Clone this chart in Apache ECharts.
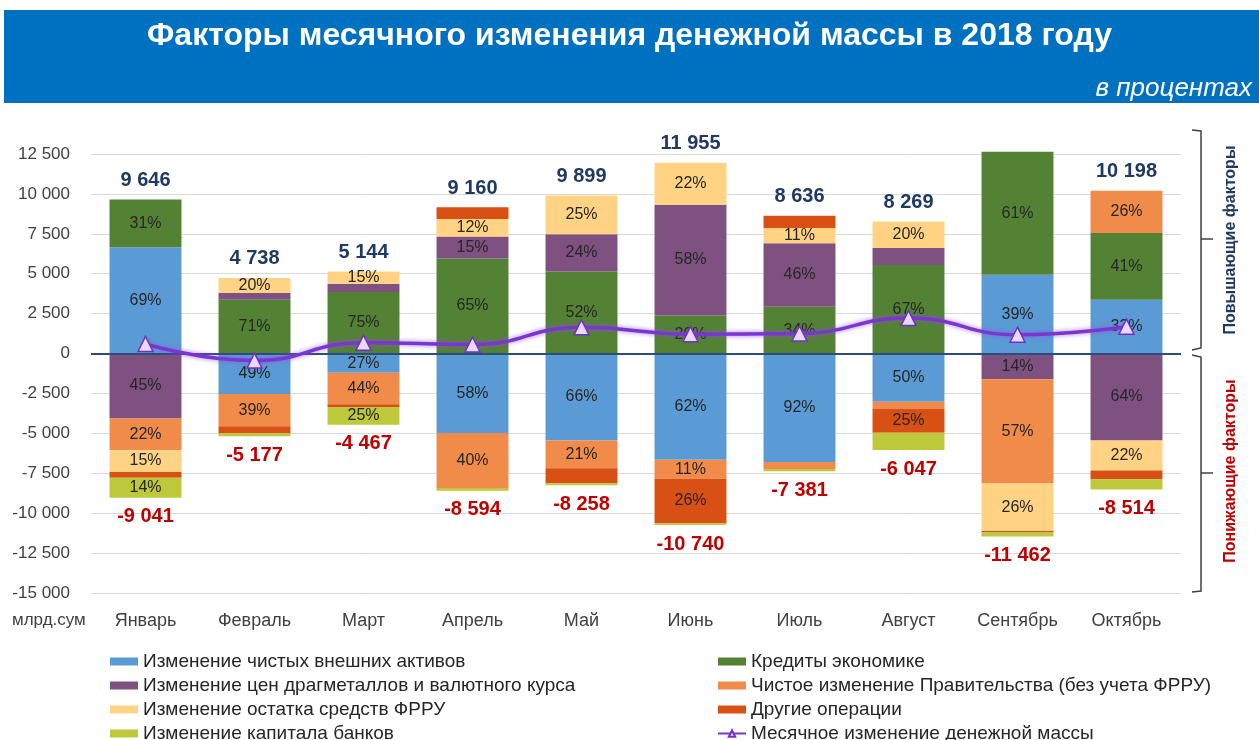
<!DOCTYPE html>
<html>
<head>
<meta charset="utf-8">
<script src="https://cdn.jsdelivr.net/npm/echarts@6/dist/echarts.min.js"></script>
<style>
  html, body { margin: 0; padding: 0; background: #fff; }
  #chart { width: 1259px; height: 740px; }
</style>
</head>
<body>
<div id="chart"></div>
<script>
// месяцы
const categories = ['Январь', 'Февраль', 'Март', 'Апрель', 'Май', 'Июнь', 'Июль', 'Август', 'Сентябрь', 'Октябрь'];

// млрд.сум
const netForeignAssets = [6656, -2537, -1206, -4985, -5450, -6659, -6791, -3024, 4930, 3365];
const creditsEconomy   = [2990, 3364, 3858, 5954, 5147, 2391, 2936, 5540, 7712, 4181];
const metalsCurrency   = [-4068, 426, 514, 1374, 2330, 6934, 3973, 1075, -1605, -5449];
const governmentNet    = [-1989, -2019, -1965, -3438, -1734, -1181, -440, -420, -6533, 2652];
const frruBalance      = [-1356, 948, 772, 1099, 2422, 2630, 950, 1654, -2980, -1873];
const otherOps         = [-362, -440, -179, 733, -940, -2792, 777, -1512, -90, -560];
const bankCapital      = [-1266, -181, -1117, -171, -134, -108, -150, -1091, -254, -632];
const monthlyChange    = [605, -439, 677, 566, 1641, 1215, 1255, 2222, 1180, 1684];

// подписи итогов
const upTotals   = [9646, 4738, 5144, 9160, 9899, 11955, 8636, 8269, 12642, 10198];
const downTotals = [-9041, -5177, -4467, -8594, -8258, -10740, -7381, -6047, -11462, -8514];

// доли в процентах (подписи внутри столбцов), null - без подписи
const pctForeign  = [69, 49, 27, 58, 66, 62, 92, 50, 39, 33];
const pctCredits  = [31, 71, 75, 65, 52, 20, 34, 67, 61, 41];
const pctMetals   = [45, null, null, 15, 24, 58, 46, null, 14, 64];
const pctGov      = [22, 39, 44, 40, 21, 11, null, null, 57, 26];
const pctFrru     = [15, 20, 15, 12, 25, 22, 11, 20, 26, 22];
const pctOther    = [null, null, null, null, null, 26, null, 25, null, null];
const pctCapital  = [14, null, 25, null, null, null, null, null, null, null];

const yTicks = { min: -15000, max: 12500, step: 2500 };

const FONT = '"Liberation Sans", Arial, sans-serif';
const fmt = v => String(v).replace(/\B(?=(\d{3})+(?!\d))/g, ' ');

function barSeries(name, data, pct, color) {
  return {
    name: name,
    type: 'bar',
    stack: 'factors',
    barWidth: '66%',
    clip: false,
    data: data,
    itemStyle: { color: color },
    label: {
      show: true,
      position: 'inside',
      fontFamily: FONT,
      fontSize: 16,
      color: '#262626',
      formatter: p => (pct[p.dataIndex] == null ? '' : pct[p.dataIndex] + '%')
    }
  };
}

const names = [
  'Изменение чистых внешних активов',
  'Кредиты экономике',
  'Изменение цен драгметаллов и валютного курса',
  'Чистое изменение Правительства (без учета ФРРУ)',
  'Изменение остатка средств ФРРУ',
  'Другие операции',
  'Изменение капитала банков',
  'Месячное изменение денежной массы'
];

const legendBase = {
  orient: 'vertical',
  top: 652,
  height: 100,
  padding: 0,
  itemWidth: 28,
  itemHeight: 8,
  itemGap: 5,
  selectedMode: false,
  textStyle: { fontSize: 19, lineHeight: 18, color: '#262626', fontFamily: FONT }
};

const chart = echarts.init(document.getElementById('chart'));

const option = {
  animation: false,
  textStyle: { fontFamily: FONT },
  title: [
    {
      text: 'Факторы месячного изменения денежной массы в 2018 году',
      left: 'center',
      top: 15,
      textStyle: { color: '#fff', fontSize: 32, fontWeight: 'bold', fontFamily: FONT }
    },
    {
      text: 'в процентах',
      right: 2,
      top: 71,
      textStyle: { color: '#fff', fontSize: 26, fontStyle: 'italic', fontWeight: 'normal', fontFamily: FONT }
    }
  ],
  legend: [
    Object.assign({}, legendBase, {
      left: 110,
      data: [names[0], names[2], names[4], names[6]].map(n => ({ name: n, icon: 'rect' }))
    }),
    Object.assign({}, legendBase, {
      left: 717,
      data: [names[1], names[3], names[5]].map(n => ({ name: n, icon: 'rect' })).concat([{ name: names[7] }])
    })
  ],
  grid: { left: 91, right: 78, top: 154, bottom: 147 },
  xAxis: {
    type: 'category',
    data: categories,
    axisLine: { show: false, onZero: false },
    axisTick: { show: false },
    axisLabel: { fontSize: 18, color: '#404040', margin: 19, fontFamily: FONT }
  },
  yAxis: {
    type: 'value',
    min: yTicks.min,
    max: yTicks.max,
    interval: yTicks.step,
    axisLine: { show: false },
    axisTick: { show: false },
    axisLabel: { fontSize: 17, color: '#404040', margin: 21, formatter: fmt, fontFamily: FONT },
    splitLine: { lineStyle: { color: '#D9D9D9', width: 1 } }
  },
  series: [
    barSeries(names[0], netForeignAssets, pctForeign, '#5B9BD5'),
    barSeries(names[1], creditsEconomy, pctCredits, '#548235'),
    barSeries(names[2], metalsCurrency, pctMetals, '#7E5180'),
    barSeries(names[3], governmentNet, pctGov, '#F08B4A'),
    barSeries(names[4], frruBalance, pctFrru, '#FFD383'),
    barSeries(names[5], otherOps, pctOther, '#D85013'),
    barSeries(names[6], bankCapital, pctCapital, '#BDC83B'),
    {
      name: names[7],
      type: 'line',
      smooth: true,
      z: 5,
      data: monthlyChange,
      symbol: 'triangle',
      symbolSize: 15,
      itemStyle: { color: '#E9D8FF', borderColor: '#7030C0', borderWidth: 1.5 },
      lineStyle: { color: '#7B35D0', width: 3.5, shadowColor: 'rgba(140,80,220,0.8)', shadowBlur: 5 },
      markLine: {
        silent: true,
        symbol: ['none', 'none'],
        label: { show: false },
        lineStyle: { color: '#2B4C7E', width: 2, type: 'solid' },
        data: [{ yAxis: 0 }]
      }
    },
    {
      type: 'scatter',
      silent: true,
      symbolSize: 0,
      z: 6,
      data: upTotals,
      itemStyle: { opacity: 1 },
      label: {
        show: true, position: 'top', distance: 9, formatter: p => fmt(p.value),
        fontSize: 20, fontWeight: 'bold', color: '#1F3864', fontFamily: FONT
      }
    },
    {
      type: 'scatter',
      silent: true,
      symbolSize: 0,
      z: 6,
      data: downTotals,
      itemStyle: { opacity: 1 },
      label: {
        show: true, position: 'bottom', distance: 9, formatter: p => fmt(p.value),
        fontSize: 20, fontWeight: 'bold', color: '#C00000', fontFamily: FONT
      }
    }
  ],
  graphic: [
    { type: 'rect', z: -1, shape: { x: 4, y: 10, width: 1255, height: 93 }, style: { fill: '#0070C0' } },
    { type: 'text', left: 12, top: 612, style: { text: 'млрд.сум', font: '17px ' + FONT, fill: '#404040' } },
    { type: 'polyline', shape: { points: [[1192, 130], [1201, 131], [1201, 348], [1192, 350]] }, style: { stroke: '#404040', lineWidth: 1.5, fill: null } },
    { type: 'line', shape: { x1: 1201, y1: 239, x2: 1213, y2: 239 }, style: { stroke: '#404040', lineWidth: 1.5 } },
    { type: 'polyline', shape: { points: [[1192, 355], [1201, 357], [1201, 591], [1192, 592]] }, style: { stroke: '#404040', lineWidth: 1.5, fill: null } },
    { type: 'line', shape: { x1: 1201, y1: 473, x2: 1213, y2: 473 }, style: { stroke: '#404040', lineWidth: 1.5 } },
    { type: 'text', x: 1231, y: 240, rotation: Math.PI / 2,
      style: { text: 'Повышающие факторы', font: 'bold 16px ' + FONT, fill: '#1F3864', align: 'center', verticalAlign: 'middle' } },
    { type: 'text', x: 1231, y: 471, rotation: Math.PI / 2,
      style: { text: 'Понижающие факторы', font: 'bold 16px ' + FONT, fill: '#C00000', align: 'center', verticalAlign: 'middle' } }
  ]
};

chart.setOption(option);
window.addEventListener('resize', function () {
  chart.resize();
});
</script>
</body>
</html>
